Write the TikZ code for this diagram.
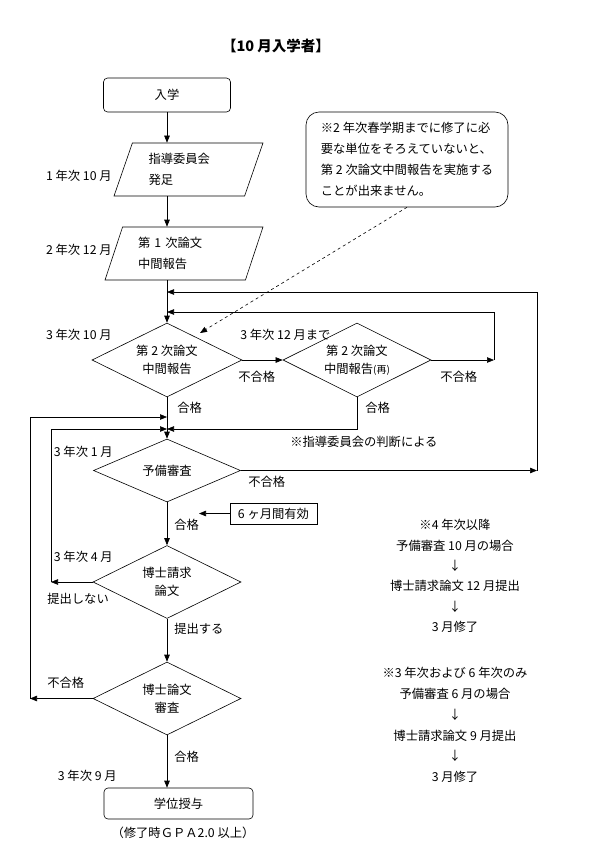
\documentclass[tikz,border=0pt]{standalone}
\usepackage{fontspec}
\setmainfont{Noto Sans CJK JP}
\usetikzlibrary{arrows.meta}
\usetikzlibrary{shapes.geometric}
\usetikzlibrary{positioning}

\begin{document}
\begin{tikzpicture}[x=1pt, y=-1pt, line width=0.6pt,
    font=\fontsize{12.3}{18}\selectfont,
    >={Triangle[length=7pt, width=5.5pt]}]
	\useasboundingbox (0,0) rectangle (592,860);

	\node[font=\fontsize{14.5}{16}\selectfont\bfseries] (title) at (276,46) {【10 月入学者】};

	\begin{scope}[every node/.style={draw, inner sep=0pt}]
		\node[rounded corners=4pt, minimum width=127, minimum height=34] (nyugaku) at (167,95) {入学};
		\node[trapezium, trapezium left angle=68, trapezium right angle=112, trapezium stretches=true,
		      minimum width=149, minimum height=53, text width=80, align=left,
		      font=\fontsize{12.3}{21}\selectfont] (p1) at (188.5,169.5) {指導委員会\\発足};
		\node[trapezium, trapezium left angle=68, trapezium right angle=112, trapezium stretches=true,
		      minimum width=158, minimum height=53, text width=92, align=left,
		      font=\fontsize{12.3}{21}\selectfont] (p2) at (184,253.5) {第 1 次論文\\中間報告};
		\node[rounded corners=13pt, minimum width=202, minimum height=95, align=left,
		      font=\fontsize{12.3}{21}\selectfont] (note) at (407,159.5)
		      {※2 年次春学期までに修了に必\\要な単位をそろえていないと、\\第 2 次論文中間報告を実施する\\ことが出来ません。};
		\node[diamond, aspect=2, minimum width=150, minimum height=74, align=center] (d1) at (167,360) {第 2 次論文\\中間報告};
		\node[diamond, aspect=2, minimum width=148, minimum height=74, align=center] (d2) at (357,360) {第 2 次論文\\中間報告{\fontsize{10}{12}\selectfont (再)}};
		\node[diamond, aspect=2, minimum width=147, minimum height=63] (d3) at (167,470.5) {予備審査};
		\node[minimum width=87, minimum height=21] (six) at (273.5,513.5) {6 ヶ月間有効};
		\node[diamond, aspect=2, minimum width=148, minimum height=73, align=center] (d4) at (167,582) {博士請求\\論文};
		\node[diamond, aspect=2, minimum width=148, minimum height=73, align=center] (d5) at (167,698.5) {博士論文\\審査};
		\node[rounded corners=4pt, minimum width=149, minimum height=31] (gakui) at (178.5,803.5) {学位授与};
	\end{scope}

	% labels
	\begin{scope}[every node/.style={inner sep=0pt}]
		\node[anchor=east] (t1) at (112,176) {1 年次 10 月};
		\node[anchor=east] (t2) at (112,250) {2 年次 12 月};
		\node[anchor=east] (t3) at (112,335) {3 年次 10 月};
		\node[anchor=east] (t4) at (113,452) {3 年次 1 月};
		\node[anchor=east] (t5) at (113,557) {3 年次 4 月};
		\node[anchor=east] (t6) at (117,776) {3 年次 9 月};
		\node[anchor=west] (until) at (240,335) {3 年次 12 月まで};
		\node[anchor=west] (ng1) at (238,377) {不合格};
		\node[anchor=west] (ng2) at (440,377) {不合格};
		\node[anchor=west] (ok1) at (177,408) {合格};
		\node[anchor=west] (ok2) at (365,408) {合格};
		\node[anchor=west] (judge) at (290,442) {※指導委員会の判断による};
		\node[anchor=west] (ng3) at (248,482) {不合格};
		\node[anchor=west] (ok3) at (174,525) {合格};
		\node[anchor=west] (nosub) at (47,599) {提出しない};
		\node[anchor=west] (sub) at (174,629) {提出する};
		\node[anchor=west] (ng5) at (47,683) {不合格};
		\node[anchor=west] (ok5) at (174,757) {合格};
		\node (gpa) at (183,833) {（修了時ＧＰＡ2.0 以上）};
		\node[align=center, font=\fontsize{12.3}{20.4}\selectfont] (case1) at (455,576)
		     {※4 年次以降\\予備審査 10 月の場合\\↓\\博士請求論文 12 月提出\\↓\\3 月修了};
		\node[align=center, font=\fontsize{12.3}{20.8}\selectfont] (case2) at (455,725)
		     {※3 年次および 6 年次のみ\\予備審査 6 月の場合\\↓\\博士請求論文 9 月提出\\↓\\3 月修了};
	\end{scope}

	\coordinate (m0) at (167,292);
	\coordinate (m1) at (167,312);
	\coordinate (j0) at (167,417);
	\coordinate (j1) at (167,429);
	\coordinate (r1) at (494,360);
	\coordinate (r2) at (537,470.5);
	\coordinate (l1) at (51,582);
	\coordinate (l2) at (30,698.5);
	\coordinate (tip) at (200,333);
	\coordinate (tip6) at (199,513.5);

	\begin{scope}[every edge/.style={draw, ->}]
		\path (nyugaku) edge (nyugaku |- p1.north);
		\path (p1.south -| nyugaku) edge (p2.north -| nyugaku);
		\path (p2.south -| nyugaku) edge (d1);
		\path (d1) edge (d2);
		\path (d2) edge (r1);
		\draw[->] (r1) |- (m1);
		\path (d1) edge (d3);
		\draw[->] (d2) |- (j1);
		\path (d3) edge (r2);
		\draw[->] (r2) |- (m0);
		\path (d3) edge (d4);
		\path (d4) edge (l1);
		\draw[->] (l1) |- (j1);
		\path (d4) edge (d5);
		\path (d5) edge (l2);
		\draw[->] (l2) |- (j0);
		\path (d5) edge (d5 |- gakui.north);
		\path (six) edge (tip6);
		\draw[->, dashed] (note.south) -- (tip);
	\end{scope}
\end{tikzpicture}
\end{document}
